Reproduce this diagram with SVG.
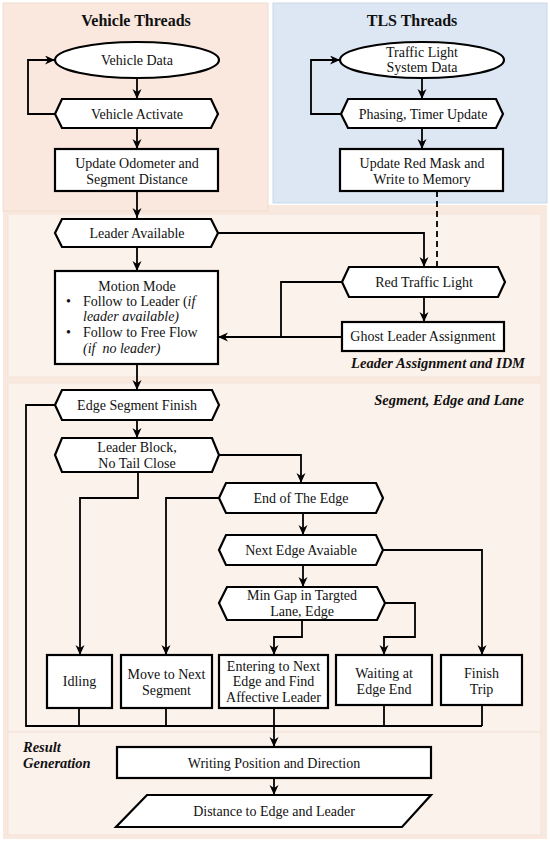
<svg xmlns="http://www.w3.org/2000/svg" width="550" height="843" viewBox="0 0 550 843">
<defs>
<marker id="arr" markerUnits="userSpaceOnUse" markerWidth="11" markerHeight="10" refX="10" refY="4.5" orient="auto">
<path d="M0,0 L10,4.5 L0,9 L3,4.5 z" fill="#000"/>
</marker>
<style>
.shape{fill:#fff;stroke:#000;stroke-width:2.2}
.conn{fill:none;stroke:#000;stroke-width:1.8}
.t{font-family:"Liberation Serif","Times New Roman",serif;font-size:14px;fill:#111;text-anchor:middle}
.tl{font-family:"Liberation Serif","Times New Roman",serif;font-size:14px;fill:#111;text-anchor:start}
.ti{font-style:italic}
.h{font-family:"Liberation Serif","Times New Roman",serif;font-size:16px;font-weight:bold;fill:#111;text-anchor:middle}
.lab{font-family:"Liberation Serif","Times New Roman",serif;font-size:14.5px;font-weight:bold;font-style:italic;fill:#111}
.end{text-anchor:end}
</style>
</defs>
<rect x="0" y="0" width="550" height="843" fill="#fff"/>
<g id="panels">
<rect x="3" y="205" width="544" height="634" fill="#f8e8de"/>
<rect x="3" y="3" width="265" height="208" fill="#fae8de" stroke="#f1ddd1" stroke-width="1"/>
<rect x="273" y="3" width="274" height="200" fill="#dce7f3" stroke="#c8d7e8" stroke-width="1"/>
<rect x="8" y="214" width="533" height="163" fill="#fcf2ec" stroke="#f2e2d8" stroke-width="1"/>
<rect x="8" y="383" width="533" height="349" fill="#fcf2ec" stroke="#f2e2d8" stroke-width="1"/>
<rect x="8" y="732" width="533" height="103" fill="#fcf2ec" stroke="#f2e2d8" stroke-width="1"/>
<text class="h" x="136" y="26">Vehicle Threads</text>
<text class="h" x="412" y="26">TLS Threads</text>
<text class="lab end" x="525" y="368">Leader Assignment and IDM</text>
<text class="lab end" x="524" y="405">Segment, Edge and Lane</text>
<text class="lab" x="23" y="752">Result</text>
<text class="lab" x="23" y="768">Generation</text>
</g>
<g id="connectors" class="conn">
<path d="M137,78 V99" marker-end="url(#arr)"/>
<path d="M55,114 H28 V60 H55" marker-end="url(#arr)"/>
<path d="M137,128 V149" marker-end="url(#arr)"/>
<path d="M137,191 V218" marker-end="url(#arr)"/>
<path d="M422,78 V99" marker-end="url(#arr)"/>
<path d="M341,114 H311 V60 H340" marker-end="url(#arr)"/>
<path d="M422,128 V149" marker-end="url(#arr)"/>
<path d="M437,191 V267" stroke-dasharray="6,4"/>
<path d="M218,233 H424 V267" marker-end="url(#arr)"/>
<path d="M137,247 V271" marker-end="url(#arr)"/>
<path d="M424,297 V322" marker-end="url(#arr)"/>
<path d="M342,282 H281 V337"/>
<path d="M342,337 H218" marker-end="url(#arr)"/>
<path d="M137,364 V390" marker-end="url(#arr)"/>
<path d="M137,420 V438" marker-end="url(#arr)"/>
<path d="M55,405 H26 V726 H482"/>
<path d="M138,472 V498 H80 V655" marker-end="url(#arr)"/>
<path d="M219,455 H301 V483" marker-end="url(#arr)"/>
<path d="M219,498 H166 V655" marker-end="url(#arr)"/>
<path d="M303,513 V535" marker-end="url(#arr)"/>
<path d="M383,550 H482 V655" marker-end="url(#arr)"/>
<path d="M303,565 V587" marker-end="url(#arr)"/>
<path d="M302,620 V637 H274 V655" marker-end="url(#arr)"/>
<path d="M385,603 H415 V637 H384 V655" marker-end="url(#arr)"/>
<path d="M79,708 V726 M166,708 V726 M384,705 V726 M482,705 V726"/>
<path d="M274,708 V747" marker-end="url(#arr)"/>
<path d="M274,778 V795" marker-end="url(#arr)"/>
</g>
<g id="vehicle-data"><ellipse class="shape" cx="137" cy="60" rx="82" ry="18"/><text class="t" x="137" y="65">Vehicle Data</text></g>
<g id="vehicle-activate"><polygon class="shape" points="55,114 62,99 211,99 218,114 211,128 62,128"/><text class="t" x="137" y="119">Vehicle Activate</text></g>
<g id="update-odometer"><rect class="shape" x="55" y="149" width="163" height="42"/><text class="t" x="137" y="168">Update Odometer and</text><text class="t" x="137" y="184">Segment Distance</text></g>
<g id="tls-data"><ellipse class="shape" cx="422" cy="60" rx="82" ry="18"/><text class="t" x="422" y="57">Traffic Light</text><text class="t" x="422" y="72">System Data</text></g>
<g id="phasing"><polygon class="shape" points="341,114 348,99 496,99 503,114 496,128 348,128"/><text class="t" x="423" y="119">Phasing, Timer Update</text></g>
<g id="update-red-mask"><rect class="shape" x="340" y="149" width="163" height="42"/><text class="t" x="422" y="168">Update Red Mask and</text><text class="t" x="422" y="184">Write to Memory</text></g>
<g id="leader-available"><polygon class="shape" points="55,233 62,219 211,219 218,233 211,247 62,247"/><text class="t" x="137" y="238">Leader Available</text></g>
<g id="motion-mode"><rect class="shape" x="55" y="271" width="163" height="93"/>
<text class="t" x="137" y="291">Motion Mode</text>
<text class="tl" x="66" y="306">•</text><text class="tl" x="83" y="306">Follow to Leader (<tspan class="ti">if</tspan></text>
<text class="tl ti" x="83" y="321">leader available)</text>
<text class="tl" x="66" y="337">•</text><text class="tl" x="83" y="337">Follow to Free Flow</text>
<text class="tl ti" x="83" y="353" xml:space="preserve">(if  no leader)</text>
</g>
<g id="red-traffic-light"><polygon class="shape" points="342,282 349,267 498,267 505,282 498,297 349,297"/><text class="t" x="424" y="287">Red Traffic Light</text></g>
<g id="ghost-leader"><rect class="shape" x="342" y="322" width="162" height="29"/><text class="t" x="423" y="341">Ghost Leader Assignment</text></g>
<g id="edge-segment-finish"><polygon class="shape" points="55,405 62,390 212,390 219,405 212,420 62,420"/><text class="t" x="137" y="410">Edge Segment Finish</text></g>
<g id="leader-block"><polygon class="shape" points="55,455 62,438 212,438 219,455 212,472 62,472"/><text class="t" x="137" y="452">Leader Block,</text><text class="t" x="137" y="468">No Tail Close</text></g>
<g id="end-of-edge"><polygon class="shape" points="219,498 226,483 376,483 383,498 376,513 226,513"/><text class="t" x="301" y="503">End of The Edge</text></g>
<g id="next-edge"><polygon class="shape" points="219,550 226,535 376,535 383,550 376,565 226,565"/><text class="t" x="301" y="555">Next Edge Avaiable</text></g>
<g id="min-gap"><polygon class="shape" points="219,603 227,587 377,587 385,603 377,620 227,620"/><text class="t" x="302" y="600">Min Gap in Targted</text><text class="t" x="302" y="616">Lane, Edge</text></g>
<g id="idling"><rect class="shape" x="47" y="655" width="65" height="53"/><text class="t" x="79.5" y="686">Idling</text></g>
<g id="move-next"><rect class="shape" x="121" y="655" width="91" height="53"/><text class="t" x="166.5" y="679">Move to Next</text><text class="t" x="166.5" y="695">Segment</text></g>
<g id="entering"><rect class="shape" x="219" y="655" width="109" height="53"/><text class="t" x="273.5" y="671">Entering to Next</text><text class="t" x="273.5" y="686">Edge and Find</text><text class="t" x="273.5" y="702">Affective Leader</text></g>
<g id="waiting"><rect class="shape" x="336" y="655" width="96" height="50"/><text class="t" x="384" y="678">Waiting at</text><text class="t" x="384" y="694">Edge End</text></g>
<g id="finish-trip"><rect class="shape" x="441" y="655" width="81" height="50"/><text class="t" x="481.5" y="678">Finish</text><text class="t" x="481.5" y="694">Trip</text></g>
<g id="writing"><rect class="shape" x="117" y="747" width="314" height="31"/><text class="t" x="274" y="768">Writing Position and Direction</text></g>
<g id="distance"><polygon class="shape" points="147,795 431,795 402,827 116,827"/><text class="t" x="274" y="816">Distance to Edge and Leader</text></g>
</svg>
